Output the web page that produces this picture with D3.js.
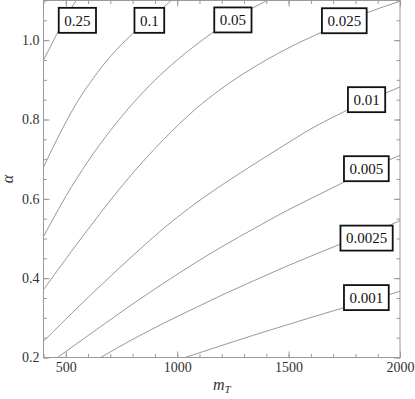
<!DOCTYPE html>
<html>
<head>
<meta charset="utf-8">
<script src="https://cdn.jsdelivr.net/npm/d3@7"></script>
<style>
  body { margin: 0; background: #fff; }
</style>
</head>
<body>
<div id="chart-Div"></div>
<script>
// contour levels, top-left to bottom-right
const levels = ["0.25", "0.1", "0.05", "0.025", "0.01", "0.005", "0.0025", "0.001"];

// traced contour lines, [mT, alpha]
const line0250 = [[400, 0.950], [434, 0.987], [466, 1.022], [501, 1.057], [534, 1.089], [547, 1.101]];
const line0100 = [[400, 0.680], [475, 0.766], [550, 0.843], [625, 0.905], [700, 0.959], [800, 1.016],
                  [900, 1.064], [975, 1.101]];
const line0050 = [[400, 0.505], [500, 0.606], [600, 0.695], [700, 0.772], [800, 0.840], [900, 0.899],
                  [1000, 0.950], [1100, 0.995], [1200, 1.035], [1300, 1.069], [1410, 1.102]];
const line0025 = [[400, 0.371], [594, 0.519], [781, 0.652], [938, 0.749], [1088, 0.829], [1192, 0.875],
                  [1342, 0.931], [1491, 0.978], [1656, 1.022], [1851, 1.069], [2000, 1.098]];
const line0010 = [[400, 0.241], [601, 0.352], [811, 0.462], [938, 0.525], [1088, 0.591], [1228, 0.645],
                  [1426, 0.716], [1618, 0.782], [1761, 0.823], [1933, 0.866], [2000, 0.882]];
const line0005 = [[463, 0.2], [639, 0.271], [811, 0.339], [938, 0.387], [1088, 0.441], [1215, 0.484],
                  [1342, 0.524], [1491, 0.570], [1619, 0.606], [1745, 0.641], [1947, 0.697], [2000, 0.710]];
const line00025 = [[656, 0.2], [811, 0.249], [938, 0.286], [1088, 0.327], [1215, 0.361], [1342, 0.393],
                   [1491, 0.430], [1619, 0.460], [1738, 0.487], [1963, 0.536], [2000, 0.545]];
const line0001 = [[1035, 0.2], [1215, 0.233], [1342, 0.256], [1491, 0.282], [1619, 0.304], [1745, 0.325],
                  [1947, 0.358], [2000, 0.367]];

// where each contour label sits
const labelMT = [552, 875, 1250, 1750, 1850, 1849, 1850, 1849];
const labelAlpha = [1.050, 1.050, 1.051, 1.049, 0.850, 0.676, 0.501, 0.351];

// axis ticks
const xTicks = [500, 1000, 1500, 2000];
const xMinor = d3.range(400, 2001, 100);
const yTicks = [0.2, 0.4, 0.6, 0.8, 1.0];
const yMinor = d3.range(0.2, 1.1001, 0.05);

const contourLines = [line0250, line0100, line0050, line0025, line0010, line0005, line00025, line0001];

const serif = '"Liberation Serif"';

let width = 415, height = 399;
let plotLeft = 43.5, plotRight = 400, plotTop = 0.5, plotBottom = 357.5;

let svg = d3.select('#chart-Div')
    .append('svg')
    .attr('width', width)
    .attr('height', height);

let xScale = d3.scaleLinear().domain([400, 2000]).range([plotLeft, plotRight]);
let yScale = d3.scaleLinear().domain([0.2, 1.1]).range([plotBottom, plotTop]);

svg.append('clipPath').attr('id', 'plotClip')
    .append('rect')
    .attr('x', plotLeft).attr('y', plotTop)
    .attr('width', plotRight - plotLeft).attr('height', plotBottom - plotTop);

// contour lines
let lineGen = d3.line()
    .x(d => xScale(d[0]))
    .y(d => yScale(d[1]))
    .curve(d3.curveMonotoneX);

svg.append('g')
    .attr('clip-path', 'url(#plotClip)')
    .selectAll('path')
    .data(contourLines)
    .join('path')
    .attr('d', lineGen)
    .attr('fill', 'none')
    .attr('stroke', '#8c8c8c')
    .attr('stroke-width', 0.9);

// axes: ticks point inward, frame on all sides
function styleAxis(g) {
    g.select('.domain').remove();
    g.selectAll('line').attr('stroke', '#999');
    g.selectAll('text')
        .attr('fill', '#333')
        .style('font-size', '14px')
        .style('font-family', serif);
}

svg.append('g').attr('transform', `translate(0,${plotBottom})`)
    .call(d3.axisBottom(xScale).tickValues(xMinor).tickSize(-3.5).tickFormat(''))
    .call(styleAxis);
svg.append('g').attr('transform', `translate(0,${plotBottom})`)
    .call(d3.axisBottom(xScale).tickValues(xTicks).tickSize(-6).tickPadding(5).tickFormat(d3.format('d')))
    .call(styleAxis);
svg.append('g').attr('transform', `translate(0,${plotTop})`)
    .call(d3.axisTop(xScale).tickValues(xMinor).tickSize(-3.5).tickFormat(''))
    .call(styleAxis);
svg.append('g').attr('transform', `translate(0,${plotTop})`)
    .call(d3.axisTop(xScale).tickValues(xTicks).tickSize(-6).tickFormat(''))
    .call(styleAxis);

svg.append('g').attr('transform', `translate(${plotLeft},0)`)
    .call(d3.axisLeft(yScale).tickValues(yMinor).tickSize(-3.5).tickFormat(''))
    .call(styleAxis);
svg.append('g').attr('transform', `translate(${plotLeft},0)`)
    .call(d3.axisLeft(yScale).tickValues(yTicks).tickSize(-6).tickPadding(4).tickFormat(d3.format('.1f')))
    .call(styleAxis);
svg.append('g').attr('transform', `translate(${plotRight},0)`)
    .call(d3.axisRight(yScale).tickValues(yMinor).tickSize(-3.5).tickFormat(''))
    .call(styleAxis);
svg.append('g').attr('transform', `translate(${plotRight},0)`)
    .call(d3.axisRight(yScale).tickValues(yTicks).tickSize(-6).tickFormat(''))
    .call(styleAxis);

svg.append('rect')
    .attr('x', plotLeft).attr('y', plotTop)
    .attr('width', plotRight - plotLeft).attr('height', plotBottom - plotTop)
    .attr('fill', 'none')
    .attr('stroke', '#999')
    .attr('stroke-width', 1);

// contour labels in boxes
let labelG = svg.append('g')
    .selectAll('g')
    .data(levels)
    .join('g')
    .attr('transform', (d, i) => `translate(${xScale(labelMT[i])},${yScale(labelAlpha[i])})`);

labelG.append('text')
    .attr('text-anchor', 'middle')
    .attr('dy', '0.35em')
    .attr('fill', '#111')
    .style('font-size', '15px')
    .style('font-family', serif)
    .text(d => d);

labelG.each(function () {
    let g = d3.select(this);
    let bb = g.select('text').node().getBBox();
    g.insert('rect', 'text')
        .attr('x', bb.x - 5.5)
        .attr('y', -12.5)
        .attr('width', bb.width + 11)
        .attr('height', 25)
        .attr('fill', '#fff')
        .attr('stroke', '#111')
        .attr('stroke-width', 1.8);
});

// axis titles
let xTitle = svg.append('text')
    .attr('x', (plotLeft + plotRight) / 2)
    .attr('y', 390)
    .attr('text-anchor', 'middle')
    .attr('fill', '#333')
    .style('font-size', '16px')
    .style('font-family', serif)
    .style('font-style', 'italic');
xTitle.append('tspan').text('m');
xTitle.append('tspan').attr('dy', 3).style('font-size', '11px').text('T');

svg.append('text')
    .attr('transform', `translate(13,${(plotTop + plotBottom) / 2}) rotate(-90)`)
    .attr('text-anchor', 'middle')
    .attr('fill', '#333')
    .style('font-size', '16px')
    .style('font-family', serif)
    .style('font-style', 'italic')
    .text('α');
</script>
</body>
</html>
